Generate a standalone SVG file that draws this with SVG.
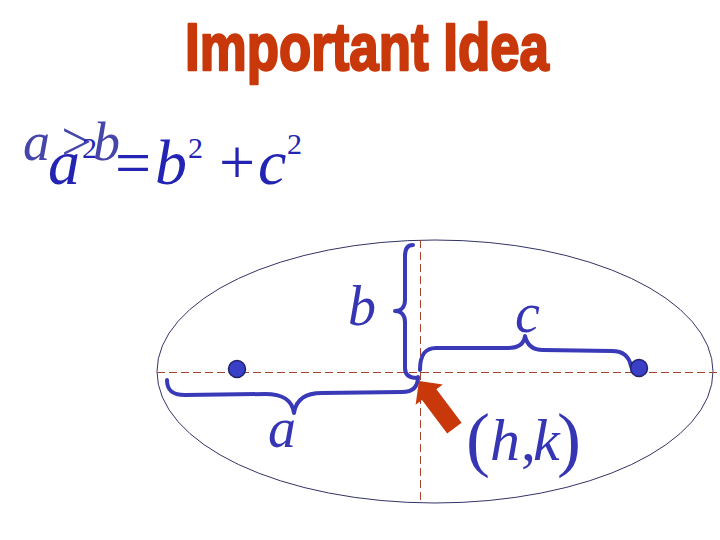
<svg xmlns="http://www.w3.org/2000/svg" width="720" height="540" viewBox="0 0 720 540">
<style>
.title{font-family:"Liberation Sans",Arial,sans-serif;font-weight:bold;font-size:67px;fill:#c8380a;stroke:#c8380a;stroke-width:2.4px;stroke-linejoin:round}
.m{font-family:"Liberation Serif","Times New Roman",serif;fill:#2424b4}
.m1{font-family:"Liberation Serif","Times New Roman",serif;fill:#4646aa}
.i{font-style:italic}
.lbl{font-family:"Liberation Serif","Times New Roman",serif;fill:#3636b4;font-size:56px}
.axis{stroke:#a0422c;stroke-width:1;stroke-dasharray:8 4;fill:none}
.brace{stroke:#3a3ab8;stroke-width:4;fill:none;stroke-linecap:round;stroke-linejoin:round}
.focus{fill:#3a3fc8;stroke:#22226a;stroke-width:1.5}
</style>
<rect width="720" height="540" fill="#ffffff"/>
<g id="title">
<text class="title" x="185" y="70" textLength="364" lengthAdjust="spacingAndGlyphs">Important Idea</text>
</g>
<g id="formula">
<text class="m1" font-size="54"><tspan class="i" x="23" y="160">a</tspan><tspan class="i" x="58" y="160">&gt;</tspan><tspan class="i" x="93" y="160">b</tspan></text>
<text class="m" font-size="64"><tspan class="i" x="48" y="184">a</tspan><tspan x="82" y="158" font-size="30">2</tspan><tspan x="115" y="184">=</tspan><tspan class="i" x="155" y="184">b</tspan><tspan x="188" y="158" font-size="30">2</tspan><tspan x="219" y="184">+</tspan><tspan class="i" x="258" y="184">c</tspan><tspan x="287" y="154" font-size="30">2</tspan></text>
</g>
<g id="ellipse">
<ellipse cx="435" cy="371.5" rx="278" ry="131.5" fill="none" stroke="#333366" stroke-width="1"/>
</g>
<g id="axes">
<line class="axis" x1="157" y1="372.5" x2="720" y2="372.5"/>
<line class="axis" x1="420.5" y1="240" x2="420.5" y2="502"/>
</g>
<g id="connectors">
<path id="brace-a" class="brace" d="M167,380 C167,390 172,395 185,395 L265,394 C282,394 292,399 294,413 C296,399 306,393 322,393 L402,392 C412,392 418,388 418,377"/>
<path id="brace-b" class="brace" d="M413,245 C407,245 405,249 405,256 L405,300 C405,307 401,311 395,311 C401,311 405,315 405,322 L405,368 C405,375 409,378 417,378"/>
<path id="brace-c" class="brace" d="M420,370 C420,355 425,348 436,348 L508,348 C518,348 524,344 525,336 C527,345 533,350 543,350 L612,351 C623,351 629,356 631,366"/>
<polygon id="arrow" points="419,381 442.8,384.4 436.4,389.2 461.6,422.8 447.2,433.6 422,400 415.6,404.8" fill="#c8380a"/>
</g>
<g id="focus-left"><circle class="focus" cx="237" cy="369" r="8.5"/></g>
<g id="focus-right"><circle class="focus" cx="639" cy="368" r="8.5"/></g>
<g id="label-b"><text class="lbl i" x="348" y="325">b</text></g>
<g id="label-a"><text class="lbl i" x="268" y="447">a</text></g>
<g id="label-c"><text class="lbl i" x="515" y="332">c</text></g>
<g id="label-hk"><text class="lbl"><tspan x="466" y="463" font-size="72">(</tspan><tspan class="i" x="490" y="460" font-size="60">h</tspan><tspan x="521" y="460" font-size="60">,</tspan><tspan class="i" x="533" y="460" font-size="60">k</tspan><tspan x="557" y="463" font-size="72">)</tspan></text></g>
</svg>
